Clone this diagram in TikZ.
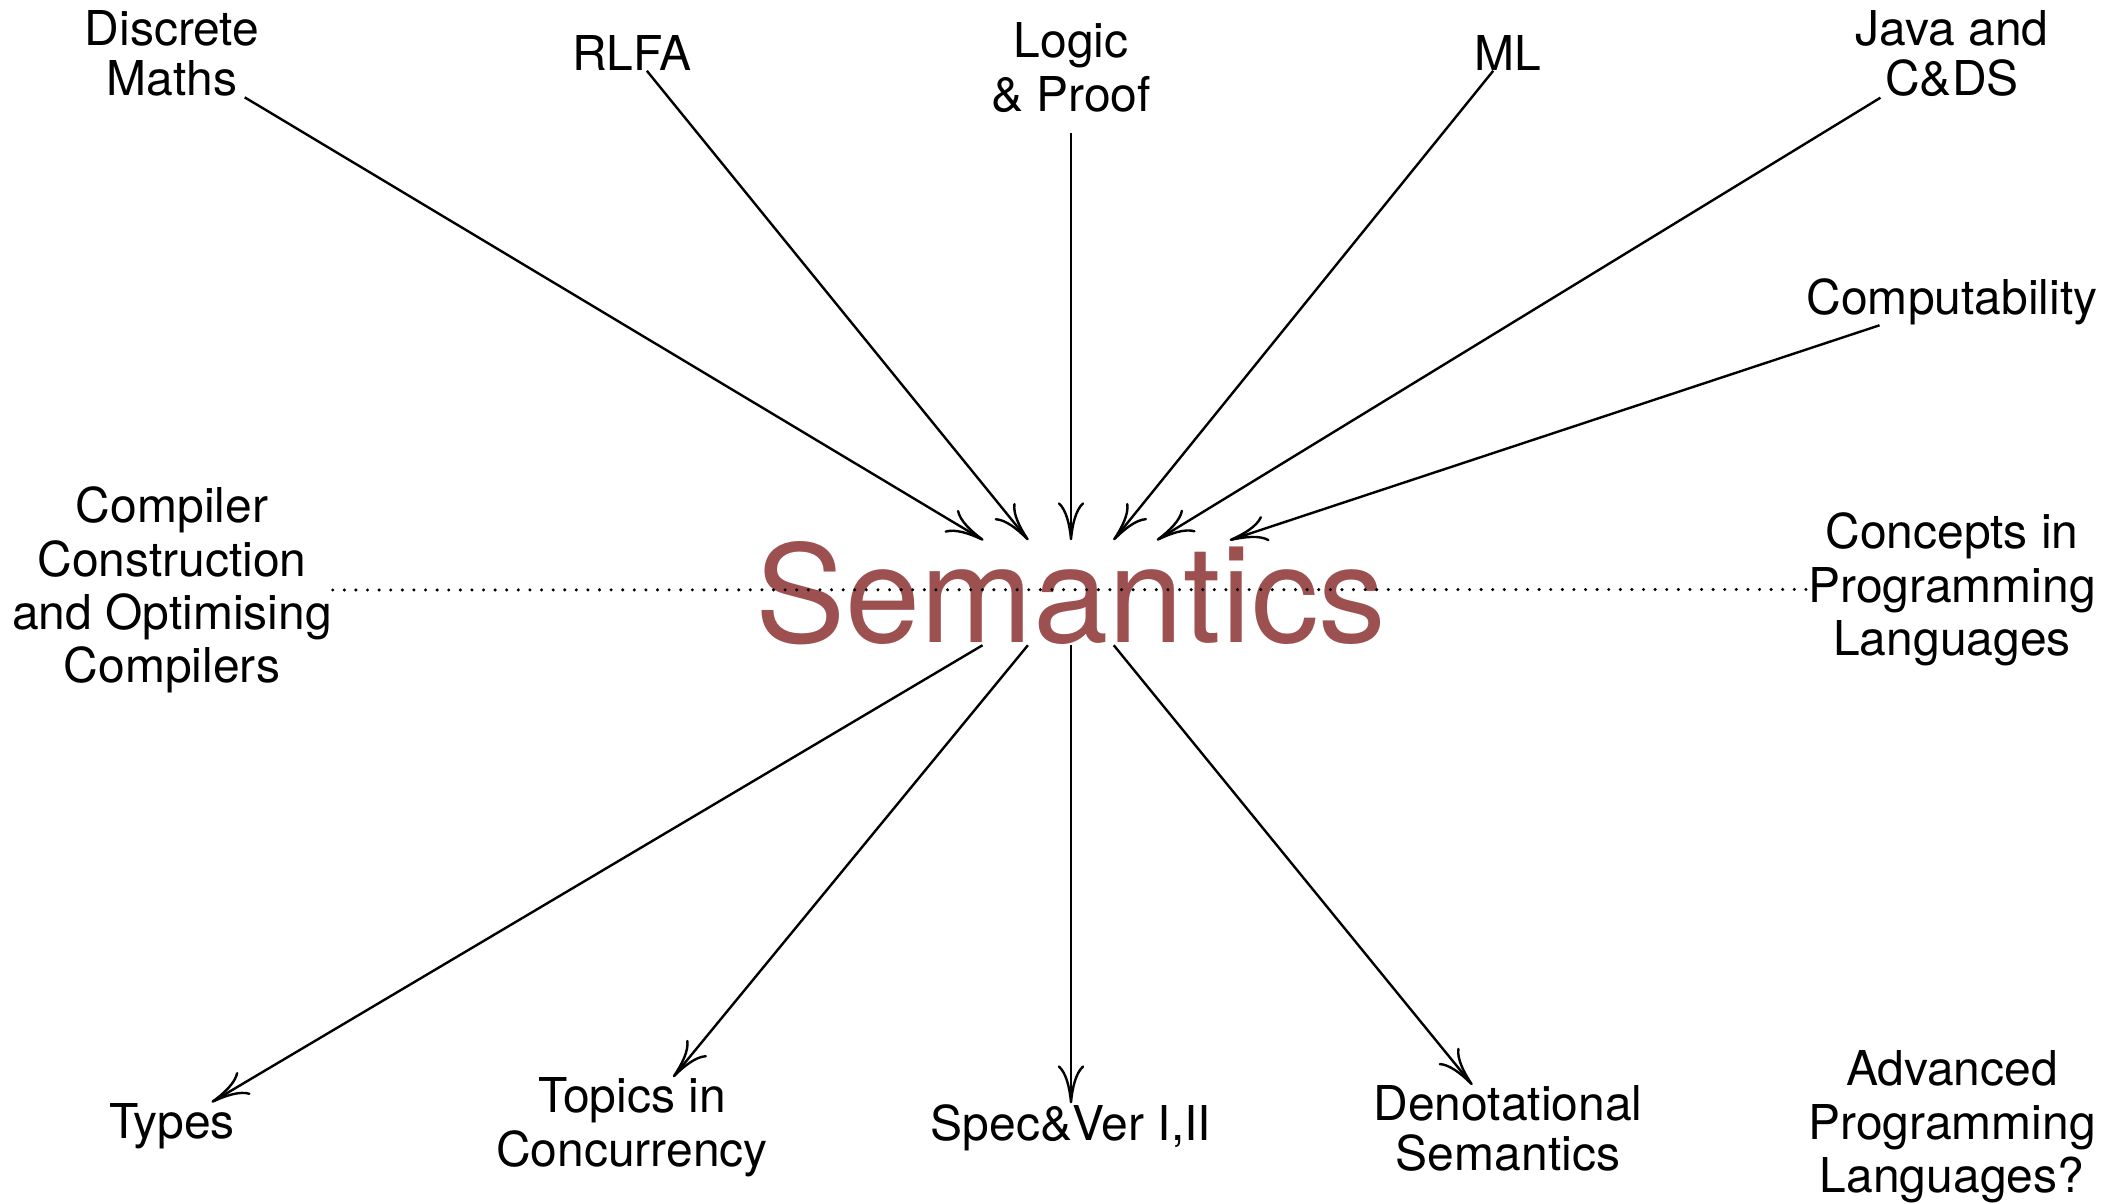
\documentclass[tikz,border=0pt]{standalone}
\usepackage{fontspec}
\setmainfont{TeX Gyre Heros}
\usetikzlibrary{arrows.meta}
\definecolor{semcol}{RGB}{156,80,80}
\begin{document}
\begin{tikzpicture}[x=0.25pt,y=-0.25pt,
  lbl/.style={inner sep=0pt, align=center, font=\fontsize{12}{13.35}\selectfont},
  tight/.style={font=\fontsize{12}{12.5}\selectfont},
  big/.style={inner sep=0pt, text=semcol, font=\fontsize{33.8}{40}\selectfont},
  arr/.style={line width=0.6pt, -{Computer Modern Rightarrow[length=9.5pt,width=6.6pt]}},
  dotline/.style={line width=0.85pt, line cap=round, dash pattern=on 0pt off 2.9pt}]
\useasboundingbox (0,0) rectangle (2125,1203);
% top row
\node[lbl, tight, anchor=north] (dm) at (172,10) {Discrete\\Maths};
\node[lbl, anchor=base] (rlfa) at (632,70) {RLFA};
\node[lbl, anchor=north] (logic) at (1071,22) {Logic\\\& Proof};
\node[lbl, anchor=base] (ml) at (1508,70) {ML};
\node[lbl, tight, anchor=north] (java) at (1952,10) {Java and\\C\&DS};
\node[lbl, anchor=base] (comp) at (1952,314) {Computability};
% middle row
\node[lbl, anchor=north] (ccc) at (172,486) {Compiler\\Construction\\and Optimising\\Compilers};
\node[big, anchor=base] (sem) at (1071,642) {Semantics};
\node[lbl, anchor=north] (cpl) at (1952,512) {Concepts in\\Programming\\Languages};
% bottom row
\node[lbl, anchor=base] (types) at (172,1138) {Types};
\node[lbl, anchor=north] (topics) at (632,1077) {Topics in\\Concurrency};
\node[lbl, anchor=base] (spec) at (1071,1140) {Spec\&Ver I,II};
\node[lbl, tight, anchor=north] (den) at (1508,1085) {Denotational\\Semantics};
\node[lbl, anchor=north] (adv) at (1952,1050) {Advanced\\Programming\\Languages?};
% connectors
\draw[dotline] (ccc) -- (cpl);
\draw[arr] (dm) -- (sem);
\draw[arr] (rlfa) -- (sem);
\draw[arr, shorten <=5pt] (logic) -- (sem);
\draw[arr] (ml) -- (sem);
\draw[arr] (java) -- (sem);
\draw[arr] (comp) -- (sem);
\draw[arr] (sem) -- (types);
\draw[arr] (sem) -- (topics);
\draw[arr] (sem) -- (spec);
\draw[arr] (sem) -- (den);
\end{tikzpicture}
\end{document}
